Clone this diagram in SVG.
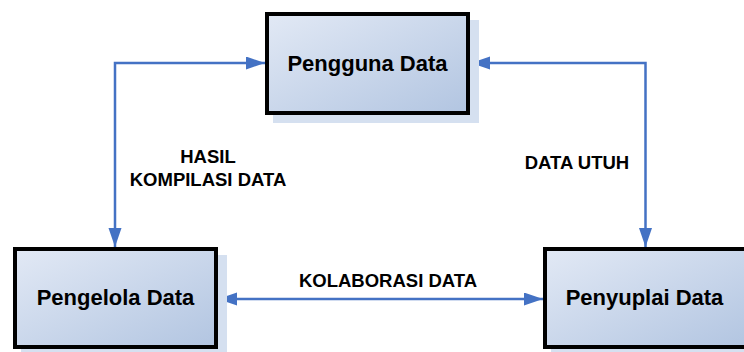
<svg xmlns="http://www.w3.org/2000/svg" width="744" height="352" viewBox="0 0 744 352">
  <defs>
    <linearGradient id="boxfill" x1="0" y1="0" x2="1" y2="1">
      <stop offset="0" stop-color="#e2e9f5"/>
      <stop offset="1" stop-color="#b2c5e1"/>
    </linearGradient>
    <marker id="arr" markerUnits="userSpaceOnUse" markerWidth="20" markerHeight="14" refX="19" refY="6.5" orient="auto-start-reverse" viewBox="0 0 20 14">
      <path d="M0,0 L19,6.5 L0,13 Z" fill="#4472c4"/>
    </marker>
    <style>
      .shadow { fill: #d5e0f0; }
      .box { fill: url(#boxfill); stroke: #000; stroke-width: 4; }
      .ntext { font-family: "Liberation Sans", Arial, sans-serif; font-weight: bold; font-size: 22px; fill: #000; text-anchor: middle; }
      .ltext { font-family: "Liberation Sans", Arial, sans-serif; font-weight: bold; font-size: 18.5px; fill: #000; text-anchor: middle; }
      .conn { fill: none; stroke: #4472c4; stroke-width: 2.5; marker-start: url(#arr); marker-end: url(#arr); }
    </style>
  </defs>
  <rect width="744" height="352" fill="#fff"/>
  <g id="connectors">
    <path class="conn" d="M265,63 H115 V247"/>
    <path class="conn" d="M471,63 H645.5 V247"/>
    <path class="conn" d="M218,299 H543"/>
    <text class="ltext" x="208" y="163">HASIL</text>
    <text class="ltext" x="208" y="186">KOMPILASI DATA</text>
    <text class="ltext" x="577" y="169">DATA UTUH</text>
    <text class="ltext" x="388" y="287">KOLABORASI DATA</text>
  </g>
  <g id="pengguna">
    <rect class="shadow" x="273" y="20" width="206" height="103"/>
    <rect class="box" x="267" y="14" width="201" height="99"/>
    <text class="ntext" x="367.5" y="71">Pengguna Data</text>
  </g>
  <g id="pengelola">
    <rect class="shadow" x="21" y="255" width="206" height="103"/>
    <rect class="box" x="15" y="249" width="201" height="98"/>
    <text class="ntext" x="115.5" y="305">Pengelola Data</text>
  </g>
  <g id="penyuplai">
    <rect class="shadow" x="551" y="255" width="206" height="103"/>
    <rect class="box" x="545" y="249" width="203" height="98"/>
    <text class="ntext" x="644.5" y="305">Penyuplai Data</text>
  </g>
</svg>
